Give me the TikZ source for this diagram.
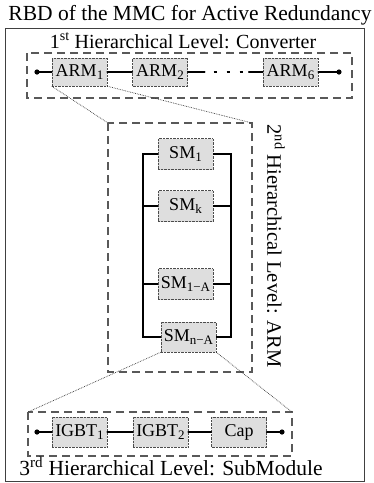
\documentclass[tikz,border=0pt]{standalone}
\usepackage{fontspec}
\setmainfont{Liberation Serif}
\usetikzlibrary{positioning}
\newcommand{\idx}[1]{\raisebox{-0.32ex}{\fontsize{13}{13}\selectfont #1}}
\tikzset{
  blk/.style={draw=black!70, densely dotted, fill=black!13, minimum width=55pt, minimum height=28pt, inner sep=1pt, font=\fontsize{18}{18}\selectfont},
  lvl/.style={draw=black!65, dash pattern=on 8pt off 5pt, line width=1.2pt},
  wire/.style={line width=1.6pt, line cap=round},
  zoomln/.style={black!80, densely dotted, line width=0.7pt},
  lbl/.style={font=\fontsize{20}{20}\selectfont, inner sep=0pt}
}
\begin{document}
\begin{tikzpicture}[x=1pt, y=-1pt]
  \useasboundingbox (0,0) rectangle (373,483);
  % 1. titel en kader
  \node[anchor=base, font=\fontsize{21.5}{21.5}\selectfont, inner sep=0pt] (title) at (190,20) {RBD of the MMC for Active Redundancy};
  \draw[black!75, line width=1pt] (5,28) rectangle (364,481);

  % 2. eerste niveau: converter
  \node[lbl, anchor=base] (lab1) at (183,48) {1\textsuperscript{st} Hierarchical Level: Converter};
  \draw[lvl] (27,53) rectangle (352,98);
  \node[blk] (arm1) at (79.5,72) {ARM\idx{1}};
  \node[blk] (arm2) at (160,72) {ARM\idx{2}};
  \node[blk] (arm6) at (290.5,72) {ARM\idx{6}};
  \coordinate (inA) at (37,72);
  \coordinate (outA) at (339,72);
  \fill (inA) circle (2.6pt);
  \fill (outA) circle (2.6pt);
  \draw[wire] (inA) -- (arm1.west);
  \draw[wire] (arm1.east) -- (arm2.west);
  \draw[wire] (arm2.east) -- ++(17,0) coordinate (gapL);
  \draw[wire, line cap=butt, dash pattern=on 3pt off 10pt] (gapL) ++(9,0) -- ++(40,0);
  \draw[wire] (arm6.west) -- ++(-14,0);
  \draw[wire] (arm6.east) -- (outA);

  % 3. tweede niveau: arm
  \coordinate (l2tl) at (108,123);
  \coordinate (l2br) at (252,372);
  \draw[lvl] (l2tl) rectangle (l2br);
  \draw[zoomln] (arm1.south west) -- (l2tl);
  \draw[zoomln] (arm1.south east) -- (l2tl -| l2br);
  \node[lbl, rotate=-90, font=\fontsize{20.5}{20.5}\selectfont] (lab2) at (276,246) {2\textsuperscript{nd} Hierarchical Level: ARM};
  \node[blk, minimum height=31pt] (sm1) at (185.5,154) {SM\idx{1}};
  \node[blk, minimum height=31pt] (smk) at (185.5,206) {SM\idx{k}};
  \node[blk, minimum height=31pt] (sm1a) at (185.5,284) {SM\idx{1−A}};
  \node[blk, minimum height=30pt] (smna) at (188.5,337) {SM\idx{n−A}};
  \coordinate (busL) at (143,154);
  \coordinate (busR) at (231,154);
  \draw[wire, line cap=butt] (sm1.west) -- (sm1.west -| busL) -- (smna.west -| busL) -- (smna.west);
  \draw[wire, line cap=butt] (sm1.east) -- (sm1.east -| busR) -- (smna.east -| busR) -- (smna.east);
  \draw[wire, line cap=butt] (smk.west) -- (smk.west -| busL);
  \draw[wire, line cap=butt] (smk.east) -- (smk.east -| busR);
  \draw[wire, line cap=butt] (sm1a.west) -- (sm1a.west -| busL);
  \draw[wire, line cap=butt] (sm1a.east) -- (sm1a.east -| busR);

  % 4. derde niveau: submodule
  \coordinate (l3tl) at (28,412);
  \coordinate (l3br) at (292,456);
  \draw[lvl] (l3tl) rectangle (l3br);
  \draw[zoomln] (smna.south west) -- (l3tl);
  \draw[zoomln] (smna.south east) -- (l3tl -| l3br);
  \node[blk, minimum height=30pt] (igbt1) at (79.5,432) {IGBT\idx{1}};
  \node[blk, minimum height=30pt] (igbt2) at (160.5,432) {IGBT\idx{2}};
  \node[blk, minimum height=30pt] (cap) at (239,432) {Cap};
  \coordinate (inC) at (37,432);
  \coordinate (outC) at (282,432);
  \fill (inC) circle (2.6pt);
  \fill (outC) circle (2.6pt);
  \draw[wire] (inC) -- (igbt1.west);
  \draw[wire] (igbt1.east) -- (igbt2.west);
  \draw[wire] (igbt2.east) -- (cap.west);
  \draw[wire] (cap.east) -- (outC);
  \node[lbl, anchor=base, font=\fontsize{21.5}{21.5}\selectfont] (lab3) at (171,475) {3\textsuperscript{rd} Hierarchical Level: SubModule};
\end{tikzpicture}
\end{document}
